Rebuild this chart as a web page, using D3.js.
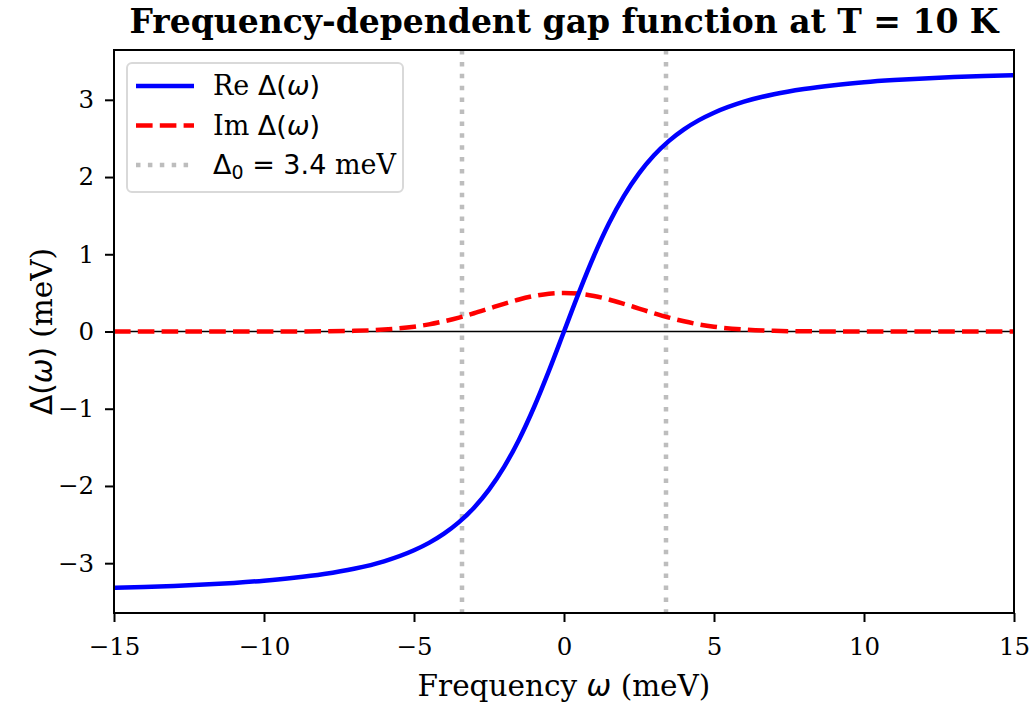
<!doctype html>
<html lang="en">
	<head>
		<meta charset="UTF-8" />
		<title>Frequency-dependent gap function</title>
		<script src="https://d3js.org/d3.v7.min.js"></script>
		<style>
			body {
				margin: 0;
				background: #fff;
			}
			svg {
				font-family: 'DejaVu Serif', serif;
			}
			.math {
				font-family: 'DejaVu Sans', sans-serif;
			}
		</style>
	</head>
	<body>
		<svg width="1034" height="709"></svg>
		<script>
			// values
			const omega = [
				-15, -14, -13, -12, -11, -10, -9, -8, -7, -6, -5, -4.5, -4, -3.5, -3, -2.5, -2, -1.5, -1,
				-0.5, 0, 0.5, 1, 1.5, 2, 2.5, 3, 3.5, 4, 4.5, 5, 6, 7, 8, 9, 10, 11, 12, 13, 14, 15
			]
			const reGap = [
				-3.32, -3.308, -3.295, -3.277, -3.255, -3.227, -3.19, -3.141, -3.073, -2.976, -2.833,
				-2.737, -2.617, -2.468, -2.281, -2.047, -1.756, -1.401, -0.981, -0.507, 0, 0.507, 0.981,
				1.401, 1.756, 2.047, 2.281, 2.468, 2.617, 2.737, 2.833, 2.976, 3.073, 3.141, 3.19, 3.227,
				3.255, 3.277, 3.295, 3.308, 3.32
			]
			const imGap = [
				0, 0, 0, 0, 0, 0, 0.0006, 0.0024, 0.0084, 0.025, 0.062, 0.092, 0.132, 0.18, 0.236, 0.297,
				0.358, 0.415, 0.46, 0.49, 0.5, 0.49, 0.46, 0.415, 0.358, 0.297, 0.236, 0.18, 0.132, 0.092,
				0.062, 0.025, 0.0084, 0.0024, 0.0006, 0, 0, 0, 0, 0, 0
			]
			const gap0 = 3.4
			const xTicks = [-15, -10, -5, 0, 5, 10, 15]
			const yTicks = [-3, -2, -1, 0, 1, 2, 3]

			const svg = d3.select('svg')
			const m = { left: 114, right: 1014, top: 50, bottom: 613 }

			const x = d3.scaleLinear().domain([-15, 15]).range([m.left, m.right])
			const y = d3.scaleLinear().domain([-3.645, 3.645]).range([m.bottom, m.top])

			const fmt = (d) => (d < 0 ? '\u2212' + Math.abs(d) : '' + d)

			const plot = svg.append('g')
			plot.append('clipPath')
				.attr('id', 'clip')
				.append('rect')
				.attr('x', m.left)
				.attr('y', m.top)
				.attr('width', m.right - m.left)
				.attr('height', m.bottom - m.top)

			const inner = plot.append('g').attr('clip-path', 'url(#clip)')

			// zero line
			inner.append('line')
				.attr('x1', m.left)
				.attr('x2', m.right)
				.attr('y1', y(0))
				.attr('y2', y(0))
				.attr('stroke', '#000')
				.attr('stroke-width', 1.6)

			// gap edges
			inner.selectAll('line.edge')
				.data([-gap0, gap0])
				.join('line')
				.attr('class', 'edge')
				.attr('x1', (d) => x(d))
				.attr('x2', (d) => x(d))
				.attr('y1', m.top)
				.attr('y2', m.bottom)
				.attr('stroke', '#bdbdbd')
				.attr('stroke-width', 4.5)
				.attr('stroke-dasharray', '4.5,7.4')

			const pts = omega.map((w, i) => ({ w, re: reGap[i], im: imGap[i] }))

			inner.append('path')
				.datum(pts)
				.attr('fill', 'none')
				.attr('stroke', '#ff0000')
				.attr('stroke-width', 4.5)
				.attr('stroke-dasharray', '16.6,7.2')
				.attr(
					'd',
					d3
						.line()
						.x((d) => x(d.w))
						.y((d) => y(d.im))
						.curve(d3.curveMonotoneX)
				)

			inner.append('path')
				.datum(pts)
				.attr('fill', 'none')
				.attr('stroke', '#0000ff')
				.attr('stroke-width', 4.5)
				.attr(
					'd',
					d3
						.line()
						.x((d) => x(d.w))
						.y((d) => y(d.re))
						.curve(d3.curveMonotoneX)
				)

			// axes
			const xAxis = plot
				.append('g')
				.attr('transform', `translate(0,${m.bottom})`)
				.call(d3.axisBottom(x).tickValues(xTicks).tickFormat(fmt).tickSizeOuter(0).tickSize(9))
			xAxis.selectAll('.tick text').attr('y', 42).attr('dy', null)
			const yAxis = plot
				.append('g')
				.attr('transform', `translate(${m.left},0)`)
				.call(d3.axisLeft(y).tickValues(yTicks).tickFormat(fmt).tickSizeOuter(0).tickSize(9).tickPadding(11))
			for (const a of [xAxis, yAxis]) {
				a.attr('font-family', null).attr('font-size', null)
				a.selectAll('.tick line').attr('stroke-width', 2)
				a.selectAll('.tick text').attr('font-size', 24.5).attr('fill', '#000')
				a.select('.domain').remove()
			}

			plot.append('rect')
				.attr('x', m.left)
				.attr('y', m.top)
				.attr('width', m.right - m.left)
				.attr('height', m.bottom - m.top)
				.attr('fill', 'none')
				.attr('stroke', '#000')
				.attr('stroke-width', 2)

			// title and labels
			svg.append('text')
				.attr('x', (m.left + m.right) / 2)
				.attr('y', 33)
				.attr('text-anchor', 'middle')
				.attr('font-weight', 'bold')
				.attr('font-size', 33)
				.text('Frequency-dependent gap function at T = 10 K')

			const xl = svg
				.append('text')
				.attr('x', (m.left + m.right) / 2)
				.attr('y', 696)
				.attr('text-anchor', 'middle')
				.attr('font-size', 29.5)
			xl.append('tspan').text('Frequency ')
			xl.append('tspan').attr('class', 'math').attr('font-style', 'italic').text('ω')
			xl.append('tspan').text(' (meV)')

			const yl = svg
				.append('text')
				.attr('transform', `translate(52,${(m.top + m.bottom) / 2}) rotate(-90)`)
				.attr('text-anchor', 'middle')
				.attr('font-size', 29.5)
			yl.append('tspan').attr('class', 'math').text('Δ(')
			yl.append('tspan').attr('class', 'math').attr('font-style', 'italic').text('ω')
			yl.append('tspan').attr('class', 'math').text(')')
			yl.append('tspan').text(' (meV)')

			// legend
			const lg = svg.append('g').attr('transform', 'translate(127,63)')
			lg.append('rect')
				.attr('width', 276)
				.attr('height', 129)
				.attr('rx', 5)
				.attr('fill', '#fff')
				.attr('fill-opacity', 0.8)
				.attr('stroke', '#d9d9d9')
				.attr('stroke-width', 2)

			const items = [
				{ color: '#0000ff', dash: null, parts: [['Re ', ''], ['Δ(', 'm'], ['ω', 'mi'], [')', 'm']] },
				{ color: '#ff0000', dash: '16.6,7.2', parts: [['Im ', ''], ['Δ(', 'm'], ['ω', 'mi'], [')', 'm']] },
				{ color: '#bdbdbd', dash: '4.5,7.4', parts: [['Δ', 'm'], ['0', 'sub'], [' = 3.4', 'm'], [' meV', '']] }
			]
			items.forEach((it, i) => {
				const cy = 23 + i * 39.5
				lg.append('line')
					.attr('x1', 9)
					.attr('x2', 67)
					.attr('y1', cy)
					.attr('y2', cy)
					.attr('stroke', it.color)
					.attr('stroke-width', 4.5)
					.attr('stroke-dasharray', it.dash)
				const t = lg.append('text').attr('x', 86).attr('y', cy + 9).attr('font-size', 27)
				it.parts.forEach(([s, k]) => {
					const sp = t.append('tspan').text(s)
					if (k === 'm' || k === 'mi' || k === 'sub') sp.attr('class', 'math')
					if (k === 'mi') sp.attr('font-style', 'italic')
					if (k === 'sub') sp.attr('font-size', 19).attr('dy', 5)
					if (k === 'm' && s.startsWith(' =')) sp.attr('dy', -5)
				})
			})
		</script>
	</body>
</html>
